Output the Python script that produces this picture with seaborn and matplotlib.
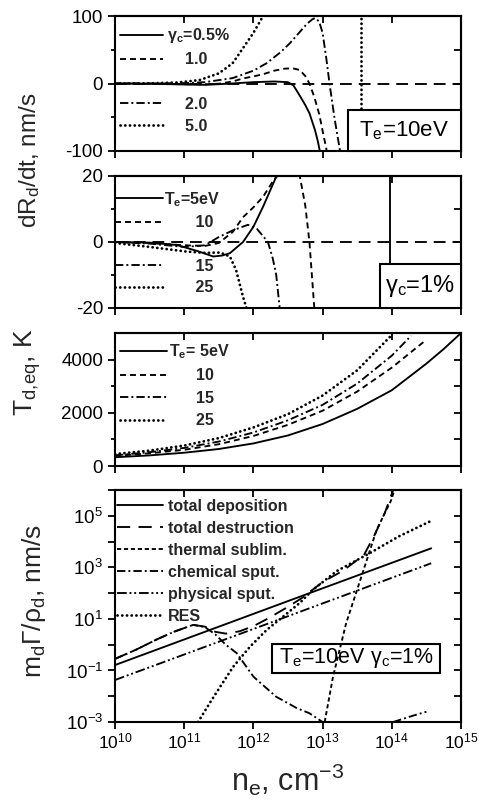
import numpy as np
import pandas as pd
import matplotlib
matplotlib.use("Agg")
import matplotlib.pyplot as plt
import seaborn as sns
from matplotlib.lines import Line2D
from matplotlib.patches import Rectangle
from matplotlib.ticker import FixedLocator, NullLocator, NullFormatter, FuncFormatter

# ---------------- data (x = log10 of n_e in cm^-3) ----------------
# Panel 1: dR_d/dt [nm/s], Te = 10 eV
p1_lx_g05 = [10.0, 10.5, 11.0, 11.3, 11.6, 12.0, 12.3, 12.5, 12.58, 12.67, 12.75, 12.81, 12.89, 12.93, 12.97]
p1_y_g05 = [0, -0.3, -1.5, -2.0, -0.5, 2.0, 3.0, 2.0, -3.0, -18, -32, -44, -69, -85, -105]
# gamma_c = 1.0 %  (identical conditions to Te = 10 eV in panel 2)
lx_g10_te10 = [10.0, 10.5, 11.0, 11.3, 11.5, 11.7, 11.85, 12.0, 12.14, 12.3, 12.45, 12.57,
               12.67, 12.75, 12.81, 12.88, 12.95, 13.0, 13.07]
y_g10_te10 = [0, -0.3, -1.0, -1.2, -0.3, 3.0, 7.5, 10.5, 13.7, 19.0, 22.0, 22.5,
              20.0, 11.0, 0.0, -20, -45, -70, -105]
p1_lx_g20 = [10.0, 10.5, 11.0, 11.3, 11.7, 12.0, 12.19, 12.4, 12.53, 12.65, 12.77, 12.85,
             12.89, 12.95, 13.0, 13.05, 13.1, 13.17, 13.26]
p1_y_g20 = [0, 0, 0.5, 2, 8, 19, 30, 47, 60, 74, 88, 95, 97, 92, 75, 40, 0, -50, -105]
p1_lx_g50 = [10.0, 10.5, 10.9, 11.22, 11.5, 11.7, 11.9, 12.0, 12.14, 12.18]
p1_y_g50 = [0, 0.3, 1.5, 5, 15, 30, 60, 75, 100, 110]
p1_pole_g50 = 13.56          # singularity of the 5 % curve

# Panel 2: dR_d/dt [nm/s], gamma_c = 1 %
p2_lx_te5 = [10.0, 10.5, 10.89, 11.2, 11.42, 11.55, 11.66, 11.85, 12.0, 12.14, 12.33, 12.4]
p2_y_te5 = [0, -0.2, -0.9, -2.8, -4.4, -4.1, -3.4, 0, 4.6, 10.7, 19.8, 23]
p2_pole_te5 = 13.97
p2_lx_te15 = [10.0, 10.5, 11.0, 11.3, 11.5, 11.7, 11.92, 12.05, 12.15, 12.21, 12.28, 12.33, 12.38, 12.42]
p2_y_te15 = [0, -0.5, -1.5, -1.0, 1.5, 3.5, 5.2, 4.0, 1.5, 0, -5, -10, -20, -28]
p2_lx_te25 = [10.0, 10.5, 11.03, 11.3, 11.52, 11.66, 11.75, 11.85, 11.9, 11.95]
p2_y_te25 = [-0.3, -1.5, -2.9, -3.3, -3.2, -4.4, -8.5, -16.6, -20, -24]

# Panel 3: T_d,eq [K]
p3_lx_te5 = [10.0, 10.5, 11.0, 11.5, 12.0, 12.5, 13.0, 13.5, 14.0, 14.5, 14.75, 15.0]
p3_y_te5 = [330, 400, 500, 640, 850, 1150, 1580, 2150, 2850, 3850, 4400, 5000]
p3_lx_te10 = [10.0, 10.5, 11.0, 11.5, 12.0, 12.5, 13.0, 13.5, 14.0, 14.5]
p3_y_te10 = [380, 480, 610, 820, 1130, 1550, 2080, 2800, 3700, 4750]
p3_lx_te15 = [10.0, 10.5, 11.0, 11.5, 12.0, 12.5, 13.0, 13.5, 14.0, 14.28]
p3_y_te15 = [400, 520, 680, 920, 1260, 1720, 2300, 3100, 4150, 4900]
p3_lx_te25 = [10.0, 10.5, 11.0, 11.5, 12.0, 12.5, 13.0, 13.5, 13.99]
p3_y_te25 = [450, 580, 770, 1050, 1450, 1950, 2650, 3600, 4900]

# Panel 4: m_d Gamma / rho_d [nm/s], log10 values, Te = 10 eV, gamma_c = 1 %
p4_lx_dep = [10.0, 12.81, 14.57]
p4_ly_dep = [-0.79, 2.0, 3.74]
p4_lx_dest = [10.0, 10.3, 10.6, 10.85, 11.13, 11.3, 11.45, 11.6, 11.8, 12.0, 12.2, 12.5,
              12.7, 13.0, 13.3, 13.6, 13.75, 13.9, 14.02, 14.06]
p4_ly_dest = [-0.55, -0.2, 0.2, 0.5, 0.77, 0.7, 0.5, 0.43, 0.52, 0.72, 1.0, 1.47,
              1.81, 2.43, 2.88, 3.49, 4.25, 5.12, 6.0, 6.3]
p4_lx_therm = [13.03, 13.15, 13.34, 13.58, 13.78, 13.99, 14.05]
p4_ly_therm = [-3.0, -1.25, 0.83, 2.8, 4.45, 5.6, 6.1]
p4_lx_chem_a = [10.0, 10.3, 10.6, 10.85, 11.13, 11.3, 11.45, 11.6, 11.76, 12.0, 12.33, 12.62, 12.81, 13.0]
p4_ly_chem_a = [-0.55, -0.2, 0.2, 0.5, 0.77, 0.68, 0.4, 0.0, -0.33, -1.24, -2.02, -2.45, -2.66, -3.0]
p4_lx_chem_b = [14.02, 14.25, 14.5]
p4_ly_chem_b = [-3.0, -2.8, -2.6]
p4_lx_phys = [10.0, 12.0, 14.57]
p4_ly_phys = [-1.37, 0.61, 3.16]
p4_lx_res = [11.2, 11.37, 11.52, 11.71, 11.95, 12.19, 12.43, 12.67, 12.86, 13.2, 13.68, 14.1, 14.55]
p4_ly_res = [-3.0, -2.26, -1.63, -0.85, -0.08, 0.57, 1.09, 1.62, 2.13, 2.85, 3.55, 4.2, 4.78]

p1_labels = ["$\\gamma_c$=0.5%", "    1.0", "    2.0", "    5.0"]
p2_labels = ["$T_e$=5eV", "       10", "       15", "       25"]
p3_labels = ["$T_e$= 5eV", "      10", "      15", "      25"]
p4_labels = ["total deposition", "total destruction", "thermal sublim.",
             "chemical sput.", "physical sput.", "RES"]
x_ticks = [1e10, 1e11, 1e12, 1e13, 1e14, 1e15]

# ---------------- style ----------------
sns.set_theme(style="ticks")
plt.rcParams["font.family"] = ["Liberation Sans", "DejaVu Sans"]
plt.rcParams["mathtext.fontset"] = "custom"
plt.rcParams["mathtext.rm"] = "Liberation Sans"
plt.rcParams["mathtext.it"] = "Liberation Sans:italic"
plt.rcParams["mathtext.bf"] = "Liberation Sans:bold"
plt.rcParams["mathtext.default"] = "regular"
plt.rcParams["axes.unicode_minus"] = False
plt.rcParams["lines.scale_dashes"] = False

LW = 1.35
STY = {
    "solid": dict(linestyle="-", linewidth=LW),
    "dash": dict(linestyle=(0, (4.3, 2.9)), linewidth=LW),
    "dashdot": dict(linestyle=(0, (6, 2.2, 1.4, 2.2)), linewidth=LW),
    "dot": dict(linestyle=(0, (0.1, 3.3)), linewidth=2.0, dash_capstyle="round"),
    "longdash": dict(linestyle=(0, (9.5, 6)), linewidth=LW),
    "shortdash": dict(linestyle=(0, (3, 2)), linewidth=LW),
    "dashdotdot": dict(linestyle=(0, (7, 2, 1.4, 2, 1.4, 2)), linewidth=LW),
}


def draw(ax, segments, style, logy=False, zorder=3):
    rows = []
    for k, (lx, y) in enumerate(segments):
        for a, b in zip(lx, y):
            rows.append((10.0 ** a, 10.0 ** b if logy else b, k))
    df = pd.DataFrame(rows, columns=["ne", "val", "seg"])
    sns.lineplot(data=df, x="ne", y="val", units="seg", estimator=None, sort=False,
                 ax=ax, color="black", legend=False, zorder=zorder, **STY[style])


def handle(style):
    return Line2D([], [], color="black", **STY[style])


def setup(ax, ylim, ymaj, ymin=None, logy=False, xlabels=False):
    ax.set_xscale("log")
    if logy:
        ax.set_yscale("log")
    ax.set_xlim(1e10, 1e15)
    ax.set_ylim(*ylim)
    ax.set_xlabel("")
    ax.set_ylabel("")
    ax.xaxis.set_major_locator(FixedLocator(x_ticks))
    ax.xaxis.set_minor_locator(NullLocator())
    ax.yaxis.set_major_locator(FixedLocator(ymaj))
    ax.yaxis.set_minor_locator(FixedLocator(ymin) if ymin else NullLocator())
    if not xlabels:
        ax.xaxis.set_major_formatter(NullFormatter())
    ax.tick_params(which="both", direction="out", width=1.3,
                   color="black", labelcolor="black", top=False, right=False)
    ax.tick_params(which="major", length=5)
    ax.tick_params(which="minor", length=3)
    ax.tick_params(axis="y", labelsize=13.5, pad=3.5)
    ax.tick_params(axis="x", labelsize=12.5, pad=2)
    for s in ax.spines.values():
        s.set_linewidth(1.5)
        s.set_color("black")
    sx = ax.secondary_xaxis("top")
    sx.xaxis.set_major_locator(FixedLocator(x_ticks))
    sx.xaxis.set_minor_locator(NullLocator())
    sx.xaxis.set_major_formatter(NullFormatter())
    sx.tick_params(which="both", direction="in", length=5, width=1.3, color="black")
    sx.spines["top"].set_linewidth(1.5)
    sy = ax.secondary_yaxis("right")
    sy.yaxis.set_major_locator(FixedLocator(list(ymaj) + list(ymin or [])))
    sy.yaxis.set_minor_locator(NullLocator())
    sy.yaxis.set_major_formatter(NullFormatter())
    sy.tick_params(which="both", direction="in", length=5, width=1.3, color="black")
    sy.spines["right"].set_linewidth(1.5)


def box(ax, x0, y0, x1, y1, text, size=15, zorder=6):
    ax.add_patch(Rectangle((x0, y0), x1 - x0, y1 - y0, transform=ax.transAxes,
                           facecolor="white", edgecolor="black", linewidth=1.5,
                           zorder=zorder, clip_on=False))
    ax.text((x0 + x1) / 2, (y0 + y1) / 2, text, transform=ax.transAxes,
            ha="center", va="center", fontsize=size, color="black", zorder=zorder + 1)


LEG = dict(frameon=False, loc="upper left", borderaxespad=0, borderpad=0,
           prop={"weight": "bold", "size": 11.5}, handlelength=2.7,
           handletextpad=0.25, labelspacing=0.45)

fig = plt.figure(figsize=(4.79, 8.01), dpi=100)
L, W = 0.2401, 0.7223
ax1 = fig.add_axes([L, 0.8115, W, 0.1685])
ax2 = fig.add_axes([L, 0.6155, W, 0.1648])
ax3 = fig.add_axes([L, 0.4182, W, 0.1660])
ax4 = fig.add_axes([L, 0.0986, W, 0.2896])
for a in (ax1, ax2, ax3):
    a.set_xscale("log")
ax4.set_xscale("log")
ax4.set_yscale("log")

# ---- panel 1
ax1.axhline(0, color="black", linestyle=(0, (8.5, 5)), linewidth=LW, zorder=2)
draw(ax1, [(p1_lx_g05, p1_y_g05)], "solid")
draw(ax1, [(lx_g10_te10, y_g10_te10)], "dash")
draw(ax1, [(p1_lx_g20, p1_y_g20)], "dashdot")
draw(ax1, [(p1_lx_g50, p1_y_g50), ([p1_pole_g50, p1_pole_g50], [110, -110])], "dot")
setup(ax1, (-100, 100), [-100, 0, 100], [-50, 50])
box(ax1, 0.673, 0.0, 1.0, 0.304, "$T_e$=10eV", size=16)
hb = [handle("solid"), handle("dash"), Line2D([], [], color="none"), handle("dashdot"), handle("dot")]
lb = [p1_labels[0], p1_labels[1], " ", p1_labels[2], p1_labels[3]]
ax1.legend(hb, lb, bbox_to_anchor=(0.0145, 0.925), **LEG)

# ---- panel 2
ax2.axhline(0, color="black", linestyle=(0, (8.5, 5)), linewidth=LW, zorder=2)
draw(ax2, [(p2_lx_te5, p2_y_te5), ([p2_pole_te5, p2_pole_te5], [22, -22])], "solid")
draw(ax2, [(lx_g10_te10, y_g10_te10)], "dash")
draw(ax2, [(p2_lx_te15, p2_y_te15)], "dashdot")
draw(ax2, [(p2_lx_te25, p2_y_te25)], "dot")
setup(ax2, (-20, 20), [-20, 0, 20], [-10, 10])
box(ax2, 0.766, 0.0, 1.0, 0.333, "$\\gamma_c$=1%", size=17)
hb = [handle("solid"), handle("dash"), Line2D([], [], color="none"), handle("dashdot"), handle("dot")]
lb = [p2_labels[0], p2_labels[1], " ", p2_labels[2], p2_labels[3]]
ax2.legend(hb, lb, bbox_to_anchor=(0.0, 0.895),
           **dict(LEG, handlelength=3.0, handletextpad=0.05, labelspacing=0.42))

# ---- panel 3
draw(ax3, [(p3_lx_te5, p3_y_te5)], "solid")
draw(ax3, [(p3_lx_te10, p3_y_te10)], "dash")
draw(ax3, [(p3_lx_te15, p3_y_te15)], "dashdot")
draw(ax3, [(p3_lx_te25, p3_y_te25)], "dot")
setup(ax3, (0, 5000), [0, 2000, 4000], [1000, 3000])
hb = [handle("solid"), handle("dash"), handle("dashdot"), handle("dot")]
ax3.legend(hb, p3_labels, bbox_to_anchor=(0.0145, 0.932),
           **dict(LEG, handlelength=2.95, handletextpad=0.1, labelspacing=0.47))

# ---- panel 4
box(ax4, 0.454, 0.213, 0.939, 0.335, "$T_e$=10eV $\\gamma_c$=1%", size=15.5, zorder=1)
draw(ax4, [(p4_lx_dep, p4_ly_dep)], "solid", logy=True)
draw(ax4, [(p4_lx_dest, p4_ly_dest)], "longdash", logy=True)
draw(ax4, [(p4_lx_therm, p4_ly_therm)], "shortdash", logy=True)
draw(ax4, [(p4_lx_chem_a, p4_ly_chem_a), (p4_lx_chem_b, p4_ly_chem_b)], "dashdot", logy=True)
draw(ax4, [(p4_lx_phys, p4_ly_phys)], "dashdotdot", logy=True)
draw(ax4, [(p4_lx_res, p4_ly_res)], "dot", logy=True)
decades = [10.0 ** k for k in range(-3, 7)]
setup(ax4, (1e-3, 1e6), decades, None, logy=True, xlabels=True)
ax4.yaxis.set_major_formatter(FuncFormatter(
    lambda v, p: ("$10^{%d}$" % int(round(np.log10(v)))) if int(round(np.log10(v))) % 2 else ""))
hb = [handle(s) for s in ["solid", "longdash", "shortdash", "dashdot", "dashdotdot", "dot"]]
ax4.legend(hb, p4_labels, bbox_to_anchor=(0.006, 0.962),
           **dict(LEG, labelspacing=0.44, handlelength=2.9, handletextpad=0.3))

# ---- axis titles
fig.text(0.062, 0.80, "$dR_d/dt$, nm/s", rotation=90, ha="center", va="center", fontsize=17.5)
fig.text(0.058, 0.535, "$T_{d,\\!eq}$, K", rotation=90, ha="center", va="center", fontsize=19)
fig.text(0.07, 0.25, "$m_d\\Gamma/\\rho_d$, nm/s", rotation=90, ha="center", va="center", fontsize=19)
fig.text(0.601, 0.026, "$n_e$, cm$^{-3}$", ha="center", va="center", fontsize=22)

fig.savefig("out.png", dpi=100)
